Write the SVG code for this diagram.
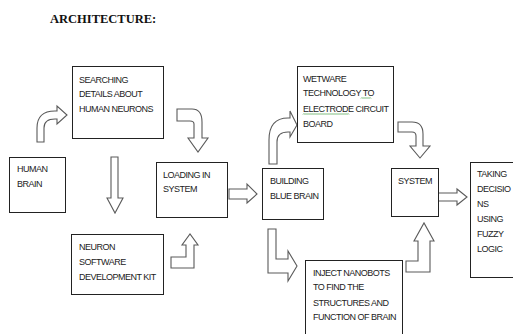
<svg xmlns="http://www.w3.org/2000/svg" width="513" height="334" viewBox="0 0 513 334">
<style>
.box{fill:#fff;stroke:#222;stroke-width:1}
.t{font-family:"Liberation Sans",Arial,sans-serif;font-size:9px;letter-spacing:-0.5px;fill:#222}
.arr{fill:#fff;stroke:#5a5a5a;stroke-width:1.1;stroke-linejoin:miter}
.sq{fill:none;stroke:#3a9a3a;stroke-width:0.7}
</style>
<rect width="513" height="334" fill="#fff"/>
<text x="50" y="23" font-family="Liberation Serif,'Times New Roman',serif" font-weight="bold" font-size="12.5" fill="#111">ARCHITECTURE:</text>

<g id="connectors">
<path class="arr" d="M37,142 L37,128 Q37,111 55,111 L57,111 L57,106 L67,115 L57,124 L57,119 L55,119 Q44,119 44,128 L44,142 Z"/>
<path class="arr" d="M177,109 L192,109 Q202,109 202,122 L202,138 L208,138 L198,152 L188,138 L194,138 L194,124 Q194,121 190,121 L177,121 Z"/>
<path class="arr" d="M111,157 L118,157 L118,198 L123,198 L115,213 L107,198 L111,198 Z"/>
<path class="arr" d="M171,268 L194,268 L194,245 L198,245 L190,234 L182,245 L186,245 L186,257 L171,257 Z"/>
<path class="arr" d="M229,189 L247,189 L247,184 L257,194 L247,203 L247,199 L229,199 Z"/>
<path class="arr" d="M269,164 L269,140 Q269,118 288,118 L290,118 L290,111 L297,125 L290,137 L290,132 L288,132 Q277,132 277,142 L277,164 Z"/>
<path class="arr" d="M398,122 L412,122 Q423,122 423,134 L423,146 L430,146 L420,158 L410,146 L416,146 L416,136 Q416,132 412,132 L398,132 Z"/>
<path class="arr" d="M268,229 L276,229 L276,259 L288,259 L288,251 L297,266 L288,281 L288,273 L268,273 Z"/>
<path class="arr" d="M406,272 L430,272 L430,241 L434,241 L424,223 L414,241 L418,241 L418,261 L406,261 Z"/>
<path class="arr" d="M438,193 L457,193 L457,189 L467,197 L457,205 L457,201 L438,201 Z"/>
</g>

<g id="human-brain">
<rect class="box" x="9.5" y="157.5" width="56" height="55"/>
<text class="t" x="17" y="172">HUMAN</text>
<text class="t" x="17" y="187">BRAIN</text>
</g>

<g id="searching">
<rect class="box" x="72.5" y="66.5" width="91" height="72"/>
<text class="t" x="79" y="83">SEARCHING</text>
<text class="t" x="79" y="97">DETAILS ABOUT</text>
<text class="t" x="79" y="112">HUMAN NEURONS</text>
</g>

<g id="neuron-kit">
<rect class="box" x="71.5" y="234.5" width="92" height="60"/>
<text class="t" x="79" y="250">NEURON</text>
<text class="t" x="79" y="265">SOFTWARE</text>
<text class="t" x="79" y="280">DEVELOPMENT KIT</text>
</g>

<g id="loading">
<rect class="box" x="156.5" y="162.5" width="71" height="55"/>
<text class="t" x="163" y="178">LOADING IN</text>
<text class="t" x="163" y="192">SYSTEM</text>
</g>

<g id="building">
<rect class="box" x="262.5" y="168.5" width="61" height="51"/>
<text class="t" x="270" y="184">BUILDING</text>
<text class="t" x="270" y="199">BLUE BRAIN</text>
</g>

<g id="wetware">
<rect class="box" x="297.5" y="66.5" width="96" height="76"/>
<text class="t" x="303" y="82">WETWARE</text>
<text class="t" x="303" y="96">TECHNOLOGY TO</text>
<text class="t" x="303" y="112">ELECTRODE CIRCUIT</text>
<text class="t" x="303" y="127">BOARD</text>
<path class="sq" d="M361,98.5 l1,-1 l1,1 l1,-1 l1,1 l1,-1 l1,1 l1,-1 l1,1 l1,-1 l1,1"/>
<path class="sq" d="M303,114.5 l1,-1 l1,1 l1,-1 l1,1 l1,-1 l1,1 l1,-1 l1,1 l1,-1 l1,1 l1,-1 l1,1 l1,-1 l1,1 l1,-1 l1,1 l1,-1 l1,1 l1,-1 l1,1 l1,-1 l1,1 l1,-1 l1,1 l1,-1 l1,1 l1,-1 l1,1 l1,-1 l1,1 l1,-1 l1,1 l1,-1 l1,1 l1,-1 l1,1 l1,-1 l1,1 l1,-1 l1,1 l1,-1 l1,1 l1,-1 l1,1 l1,-1 l1,1"/>
</g>

<g id="system">
<rect class="box" x="391.5" y="168.5" width="47" height="48"/>
<text class="t" x="398" y="184">SYSTEM</text>
</g>

<g id="taking-decisions">
<rect class="box" x="470.5" y="162.5" width="50" height="115"/>
<text class="t" x="477" y="177">TAKING</text>
<text class="t" x="477" y="192">DECISIO</text>
<text class="t" x="477" y="207">NS</text>
<text class="t" x="477" y="222">USING</text>
<text class="t" x="477" y="237">FUZZY</text>
<text class="t" x="477" y="252">LOGIC</text>
</g>

<g id="inject-nanobots">
<rect class="box" x="305.5" y="260.5" width="97" height="80"/>
<text class="t" x="313" y="276">INJECT NANOBOTS</text>
<text class="t" x="313" y="290">TO FIND THE</text>
<text class="t" x="313" y="306">STRUCTURES AND</text>
<text class="t" x="313" y="320">FUNCTION OF BRAIN</text>
</g>
</svg>
